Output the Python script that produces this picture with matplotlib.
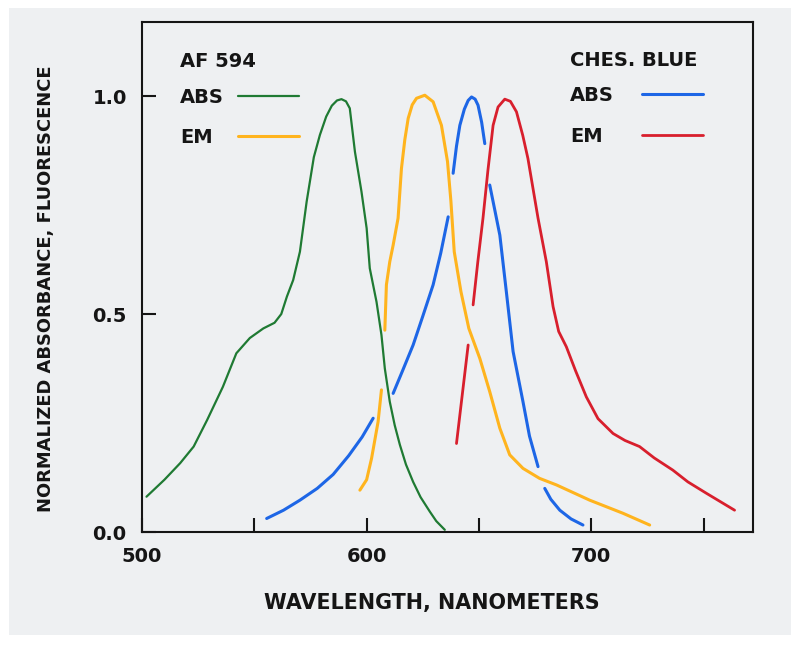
import matplotlib
matplotlib.use("Agg")
import matplotlib.pyplot as plt
from matplotlib.patches import Rectangle

# AF 594 absorbance (green)
af_abs_wl = [502, 510, 517, 523, 529, 536, 542, 548, 554, 559, 562, 564.5, 567.3, 570.3,
             573.3, 576.5, 579.2, 582, 584.5, 586.8, 588.8, 590.8, 592.5, 594.8, 597.7,
             600.0, 601.4, 604.4, 606.6, 608.1, 610.3, 612.5, 614.8, 617.5, 620.7, 624,
             628.1, 631, 634.8]
af_abs_y = [0.081, 0.12, 0.158, 0.196, 0.257, 0.333, 0.41, 0.445, 0.467, 0.48, 0.50, 0.54,
            0.578, 0.643, 0.758, 0.86, 0.911, 0.953, 0.978, 0.99, 0.993, 0.988, 0.972,
            0.872, 0.781, 0.697, 0.605, 0.528, 0.452, 0.375, 0.299, 0.245, 0.2, 0.155,
            0.115, 0.08, 0.047, 0.025, 0.005]

# AF 594 emission (orange), drawn in two pieces
af_em1_wl = [597.0, 600.0, 602.2, 605.1, 606.6]
af_em1_y = [0.096, 0.12, 0.169, 0.253, 0.326]
af_em2_wl = [608.1, 608.8, 610.3, 611.8, 614.0, 615.5, 617, 618.5, 620.3, 622.2, 625.9,
             629.6, 633.3, 636.0, 637.5, 639.0, 642.0, 645.5, 650.4, 654.8, 659.3, 663.7,
             669.6, 677.0, 684.5, 699.3, 714.1, 726.0]
af_em2_y = [0.463, 0.567, 0.62, 0.658, 0.72, 0.834, 0.9, 0.949, 0.98, 0.995, 1.002,
            0.987, 0.933, 0.85, 0.76, 0.643, 0.551, 0.467, 0.398, 0.322, 0.238, 0.177,
            0.146, 0.123, 0.108, 0.073, 0.043, 0.016]

# Ches. Blue absorbance (blue), broken segments
cb_abs_segments = [
    ([555.5, 563, 570.3, 578, 585.1, 592, 598, 602.9],
     [0.031, 0.05, 0.073, 0.1, 0.132, 0.175, 0.218, 0.261]),
    ([611.8, 616, 620.7, 625, 629.6, 633, 636.3],
     [0.318, 0.37, 0.429, 0.495, 0.567, 0.64, 0.723]),
    ([638.5, 640, 641.5, 643.5, 645.2, 646.7, 648.3, 649.6, 651.2, 652.6],
     [0.823, 0.885, 0.933, 0.97, 0.99, 0.998, 0.993, 0.979, 0.94, 0.891]),
    ([654.8, 657, 659.3, 662.2, 665.2, 669.6, 672.5, 676.3],
     [0.796, 0.74, 0.681, 0.551, 0.414, 0.299, 0.22, 0.15]),
    ([679.3, 682, 686, 691, 696.3],
     [0.10, 0.075, 0.05, 0.03, 0.016]),
]

# Ches. Blue emission (red)
cb_em1_wl = [640.0, 645.2]
cb_em1_y = [0.203, 0.429]
cb_em2_wl = [647.4, 649.5, 651.8, 654, 656.3, 658.5, 661.5, 664, 666.7, 669.5, 671.8,
             674, 676.3, 680, 683, 685.5, 688.9, 693, 697.8, 703, 709.7, 715, 721.5, 728,
             736.3, 743, 751.2, 763.8]
cb_em2_y = [0.521, 0.62, 0.72, 0.83, 0.933, 0.975, 0.993, 0.988, 0.964, 0.91, 0.857,
            0.79, 0.72, 0.62, 0.517, 0.46, 0.425, 0.37, 0.31, 0.26, 0.226, 0.21, 0.196,
            0.17, 0.142, 0.115, 0.089, 0.05]

x_major = [500, 600, 700]
x_minor = [550, 650, 750]
y_ticks = [0.0, 0.5, 1.0]

green = "#1f7a33"
orange = "#ffb41e"
blue = "#1d66e6"
red = "#d81f2d"
ink = "#151515"

fig = plt.figure(figsize=(8, 6.47), dpi=100)
fig.patch.set_facecolor("white")
paper = Rectangle((9 / 800, 12 / 647), 782 / 800, 627 / 647,
                  transform=fig.transFigure, facecolor="#eef0f2",
                  edgecolor="none", zorder=-10)
fig.add_artist(paper)

ax = fig.add_axes([142 / 800, 115 / 647, 611 / 800, 510 / 647])
ax.set_facecolor("none")

style = dict(solid_joinstyle="round", solid_capstyle="round")
g, = ax.plot(af_abs_wl, af_abs_y, color=green, lw=1.6, **style)
o, = ax.plot(af_em1_wl, af_em1_y, color=orange, lw=2.2, **style)
ax.plot(af_em2_wl, af_em2_y, color=orange, lw=2.2, **style)
b = None
for wl, y in cb_abs_segments:
    line, = ax.plot(wl, y, color=blue, lw=2.2, **style)
    if b is None:
        b = line
r, = ax.plot(cb_em1_wl, cb_em1_y, color=red, lw=2.0, **style)
ax.plot(cb_em2_wl, cb_em2_y, color=red, lw=2.0, **style)

ax.set_xlim(500, 772)
ax.set_ylim(0, 1.17)

font = dict(family="DejaVu Sans", weight="bold", size=14)

ax.set_xticks(x_major)
ax.set_xticklabels([str(v) for v in x_major])
ax.set_xticks(x_minor, minor=True)
ax.set_yticks(y_ticks)
ax.set_yticklabels([f"{v:.1f}" for v in y_ticks])
for lab in ax.get_xticklabels() + ax.get_yticklabels():
    lab.set_fontweight("bold")
ax.tick_params(which="both", direction="in", length=10, width=1.5, color=ink,
               labelsize=14, labelcolor=ink, pad=11)
ax.tick_params(axis="both", which="both", top=False, right=False)
for sp in ax.spines.values():
    sp.set_linewidth(1.5)
    sp.set_color(ink)

ax.set_xlabel("WAVELENGTH, NANOMETERS",
              fontdict=dict(family="DejaVu Sans", weight="bold", size=14.9), color=ink)
ax.xaxis.set_label_coords(0.475, -0.12)
ax.set_ylabel("NORMALIZED ABSORBANCE, FLUORESCENCE",
              fontdict=dict(family="DejaVu Sans", weight="bold", size=12.9), color=ink)
ax.yaxis.set_label_coords(-0.142, 0.476)


def make_legend(handles, title, anchor, textpad):
    leg = ax.legend(handles=handles, labels=["ABS", "EM"], title=title,
                    loc="upper left", bbox_to_anchor=anchor, frameon=False,
                    markerfirst=False, handlelength=3.15, handletextpad=textpad,
                    labelspacing=1.1, borderpad=0.47, borderaxespad=0,
                    prop=font, title_fontproperties=font, alignment="left")
    # title sits closer to the first row than the rows sit to each other
    leg._legend_box.sep = 12.0
    for t in leg.get_texts():
        t.set_color(ink)
    leg.get_title().set_color(ink)
    return leg


leg1 = make_legend([g, o], "AF 594", (0.047, 0.959), 0.72)
ax.add_artist(leg1)
leg2 = make_legend([b, r], "CHES. BLUE", (0.686, 0.962), 1.43)

# labels sit left-aligned in the reference, lines stay aligned on the right
renderer = fig.canvas.get_renderer()
for leg in (leg1, leg2):
    t_abs, t_em = leg.get_texts()
    shift = t_abs.get_window_extent(renderer).width - t_em.get_window_extent(renderer).width
    t_em.set_x(-shift)

fig.savefig("out.png", dpi=100)
